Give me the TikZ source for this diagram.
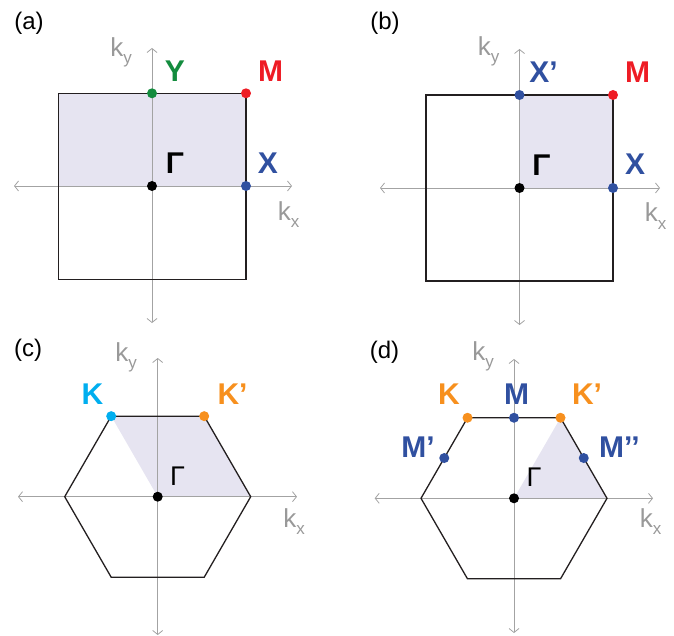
\documentclass[tikz,border=0pt]{standalone}
\usepackage{fontspec}
\setmainfont{Liberation Sans}
\usetikzlibrary{arrows.meta,calc}
\definecolor{cgreen}{HTML}{138C3E}
\definecolor{cred}{HTML}{EE1C25}
\definecolor{cblue}{HTML}{3050A0}
\definecolor{ccyan}{HTML}{00AEEF}
\definecolor{corange}{HTML}{F7901E}
\definecolor{cshade}{HTML}{E6E4F1}
\definecolor{caxis}{HTML}{A3A3A3}
\definecolor{clab}{HTML}{999999}
\definecolor{cline}{HTML}{231F20}
\newcommand{\kx}{k\raisebox{-0.28em}{\fontsize{17}{17}\selectfont x}}
\newcommand{\ky}{k\raisebox{-0.28em}{\fontsize{17}{17}\selectfont y}}
\tikzset{
  axis/.style={draw=caxis, line width=0.9pt, {Straight Barb[length=4pt,width=10pt,line width=0.8pt]}-{Straight Barb[length=4pt,width=10pt,line width=0.8pt]}},
  zone/.style={draw=cline, line width=1.3pt, line join=miter},
  shade/.style={fill=cshade, draw=none},
  pt/.style={circle, fill=#1, inner sep=0pt, minimum size=10pt},
  lbl/.style={inner sep=0pt, text=#1, font=\fontsize{30}{30}\selectfont\bfseries},
  glbl/.style={inner sep=0pt, text=black, font=\fontsize{30}{30}\selectfont\bfseries},
  gthin/.style={inner sep=0pt, text=black, font=\fontsize{27}{27}\selectfont},
  klbl/.style={inner sep=0pt, text=clab, font=\fontsize{26}{26}\selectfont},
  plbl/.style={inner sep=0pt, text=black, font=\fontsize{24}{24}\selectfont},
}
\begin{document}
\begin{tikzpicture}[x=1pt,y=-1pt]
\useasboundingbox (0,0) rectangle (674,636);

% ===== (a) =====
\fill[shade] (58.7,93.3) rectangle (246,186);
\coordinate (aL) at (14,186); \coordinate (aR) at (292,186);
\coordinate (aT) at (152,48); \coordinate (aB) at (152,323);
\draw[axis] (aL) -- (aR);
\draw[axis] (aB) -- (aT);
\draw[zone] (58.7,93.3) rectangle (246,279.3);
\node[pt=black] (aG) at (152,186) {};
\node[pt=cgreen] (aY) at (152,93.3) {};
\node[pt=cred] (aM) at (246,93.3) {};
\node[pt=cblue] (aX) at (246,186) {};
\node[plbl] (atag) at (29,23) {(a)};
\node[klbl] (aky) at (121,52) {\ky};
\node[klbl] (akx) at (288.5,214.5) {\kx};
\node[lbl=cgreen] (aYl) at (175,71) {Y};
\node[lbl=cred] (aMl) at (270.5,71) {M};
\node[glbl] (aGl) at (175,163.5) {Γ};
\node[lbl=cblue] (aXl) at (268,163.5) {X};

% ===== (b) =====
\fill[shade] (519.5,95) rectangle (613,188);
\coordinate (bL) at (380,188); \coordinate (bR) at (660,188);
\coordinate (bT) at (519.5,49); \coordinate (bB) at (519.5,325);
\draw[axis] (bL) -- (bR);
\draw[axis] (bB) -- (bT);
\draw[zone] (426,95) rectangle (613,281);
\node[pt=black] (bG) at (519.5,188) {};
\node[pt=cblue] (bXp) at (519.5,95) {};
\node[pt=cred] (bM) at (613,95) {};
\node[pt=cblue] (bX) at (613,188) {};
\node[plbl] (btag) at (385,23) {(b)};
\node[klbl] (bky) at (488.5,51.5) {\ky};
\node[klbl] (bkx) at (655.5,216) {\kx};
\node[lbl=cblue] (bXpl) at (543.5,72) {X’};
\node[lbl=cred] (bMl) at (637.5,72.5) {M};
\node[glbl] (bGl) at (541.5,165) {Γ};
\node[lbl=cblue] (bXl) at (635,164) {X};

% ===== (c) =====
\begin{scope}[shift={(157.7,496.7)}]
  \coordinate (c0) at (0:93);
  \coordinate (c1) at (-60:93);
  \coordinate (c2) at (-120:93);
  \coordinate (c3) at (180:93);
  \coordinate (c4) at (120:93);
  \coordinate (c5) at (60:93);
\end{scope}
\fill[shade] (c2) -- (c1) -- (c0) -- (157.7,496.7) -- cycle;
\coordinate (cL) at (18,496.7); \coordinate (cR) at (297,496.7);
\coordinate (cT) at (157.7,358); \coordinate (cB) at (157.7,635);
\draw[axis] (cL) -- (cR);
\draw[axis] (cB) -- (cT);
\draw[zone] (c0) -- (c1) -- (c2) -- (c3) -- (c4) -- (c5) -- cycle;
\node[pt=black] (cG) at (157.7,496.7) {};
\node[pt=ccyan] (cK) at (c2) {};
\node[pt=corange] (cKp) at (c1) {};
\node[plbl] (ctag) at (28,350) {(c)};
\node[klbl] (cky) at (126,357.5) {\ky};
\node[klbl] (ckx) at (294,521.5) {\kx};
\node[lbl=ccyan] (cKl) at (92.5,394) {K};
\node[lbl=corange] (cKpl) at (232.5,394) {K’};
\node[gthin] (cGl) at (177.5,476.5) {Γ};

% ===== (d) =====
\begin{scope}[shift={(514,498.3)}]
  \coordinate (d0) at (0:93);
  \coordinate (d1) at (-60:93);
  \coordinate (d2) at (-120:93);
  \coordinate (d3) at (180:93);
  \coordinate (d4) at (120:93);
  \coordinate (d5) at (60:93);
\end{scope}
\fill[shade] (514,498.3) -- (d1) -- (d0) -- cycle;
\coordinate (dL) at (374.7,498.3); \coordinate (dR) at (653,498.3);
\coordinate (dT) at (514,359); \coordinate (dB) at (514,633);
\draw[axis] (dL) -- (dR);
\draw[axis] (dB) -- (dT);
\draw[zone] (d0) -- (d1) -- (d2) -- (d3) -- (d4) -- (d5) -- cycle;
\node[pt=black] (dG) at (514,498.3) {};
\node[pt=corange] (dK) at (d2) {};
\node[pt=corange] (dKp) at (d1) {};
\node[pt=cblue] (dM) at ($(d1)!0.5!(d2)$) {};
\node[pt=cblue] (dMp) at ($(d2)!0.5!(d3)$) {};
\node[pt=cblue] (dMpp) at ($(d0)!0.5!(d1)$) {};
\node[plbl] (dtag) at (384.5,352) {(d)};
\node[klbl] (dky) at (483,356.5) {\ky};
\node[klbl] (dkx) at (650.5,521.5) {\kx};
\node[lbl=corange] (dKl) at (449,394) {K};
\node[lbl=cblue] (dMl) at (516.5,394) {M};
\node[lbl=corange] (dKpl) at (587,394) {K’};
\node[lbl=cblue] (dMpl) at (418,447.5) {M’};
\node[lbl=cblue] (dMppl) at (619.5,447.5) {M’’};
\node[gthin] (dGl) at (534,477) {Γ};
\end{tikzpicture}
\end{document}
